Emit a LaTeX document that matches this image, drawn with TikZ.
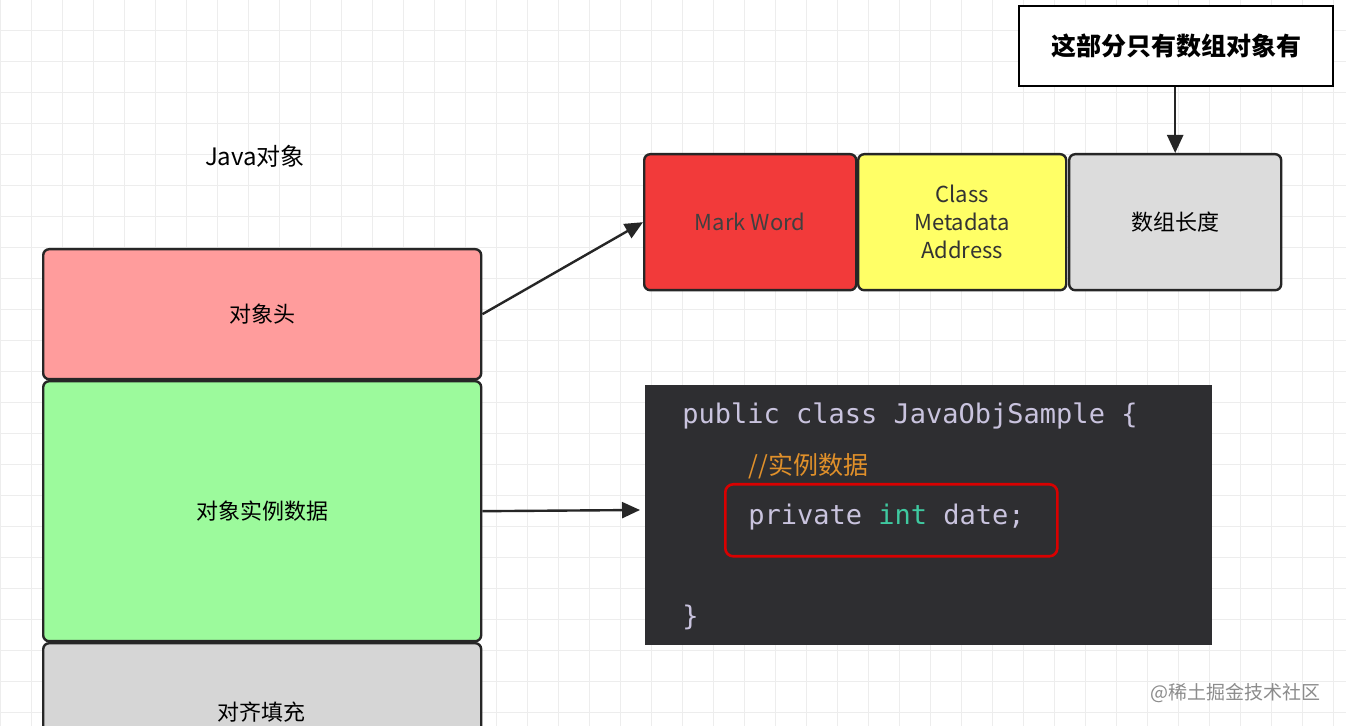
\documentclass[tikz,border=0pt]{standalone}
\usepackage{fontspec}
\setmainfont{Noto Sans CJK SC}
\newfontfamily\cjk{Noto Sans CJK SC}
\newfontfamily\codef{DejaVu Sans Mono}
\usetikzlibrary{arrows.meta}
\definecolor{hdr}{HTML}{FF9C9C}
\definecolor{inst}{HTML}{9CFA9C}
\definecolor{pad}{HTML}{D6D6D6}
\definecolor{mw}{HTML}{F23A3A}
\definecolor{cm}{HTML}{FFFF66}
\definecolor{al}{HTML}{DCDCDC}
\definecolor{codebg}{HTML}{2E2E31}
\definecolor{codefg}{HTML}{C9C3DE}
\definecolor{cmt}{HTML}{E0902A}
\definecolor{kw}{HTML}{3FC9A0}
\tikzset{
 blk/.style={draw=black!85,line width=1.2pt,rounded corners=3pt,align=center,font=\fontsize{11}{14}\selectfont},
 arr/.style={-{Triangle[length=9pt,width=8pt]},line width=1.2pt,black!85},
 code/.style={anchor=west,font=\codef\fontsize{13.5}{16}\selectfont,text=codefg,inner sep=0}
}
\begin{document}
\begin{tikzpicture}[x=0.5pt,y=-0.5pt]
\useasboundingbox (0,0) rectangle (1346,726);
\fill[white] (0,0) rectangle (1346,726);
\foreach \k in {0,...,43} \draw[black!7,line width=0.5pt] (\k*31,0) -- (\k*31,726);
\foreach \k in {0,...,23} \draw[black!7,line width=0.5pt] (0,\k*31) -- (1346,\k*31);
\node[font=\fontsize{12}{14}\selectfont] (title) at (255,156) {Java对象};
\node[blk,fill=hdr,minimum width=219pt,minimum height=65pt,anchor=north west] (h) at (42,248) {对象头};
\node[blk,fill=inst,minimum width=219pt,minimum height=130pt,anchor=north west] (i) at (42,380) {对象实例数据};
\begin{scope}
\clip (0,0) rectangle (1346,726);
\node[blk,fill=pad,minimum width=219pt,minimum height=60pt,anchor=north west,text depth=0pt] (p) at (42,642) {};
\end{scope}
\node[font=\fontsize{11}{14}\selectfont] (pt) at (261,712) {对齐填充};
\node[blk,fill=mw,minimum width=106pt,minimum height=68pt,anchor=north west,text=black!75] (m) at (643,153) {Mark Word};
\node[blk,fill=cm,minimum width=104pt,minimum height=68pt,anchor=north west,text=black!80] (c) at (857,153) {Class\\Metadata\\Address};
\node[blk,fill=al,minimum width=106pt,minimum height=68pt,anchor=north west] (a) at (1068,153) {数组长度};
\node[draw=black,line width=1.2pt,fill=white,minimum width=157pt,minimum height=40pt,anchor=north west,font=\fontsize{12.5}{14}\selectfont\bfseries] (note) at (1018,5) {这部分只有数组对象有};
\draw[arr] (note.south -| a.north) -- (a.north);
\draw[arr] (h.east) -- (m.west);
\coordinate (ce) at (640,510);
\node[fill=codebg,minimum width=283.5pt,minimum height=130pt,anchor=north west,inner sep=0] (code) at (645,385) {};
\draw[arr] (i.east) -- (ce);
\node[code] (l1) at (682,416) {public class JavaObjSample \{};
\node[code,text=cmt,font=\cjk\fontsize{12.5}{14}\selectfont] (l2) at (748,466) {//实例数据};
\node[code] (l3) at (748,517) {private \textcolor{kw}{int} date;};
\node[draw=red!85!black,line width=1.3pt,rounded corners=4pt,minimum width=166pt,minimum height=36pt,anchor=north west] (box) at (724,483) {};
\node[code] (l4) at (682,617) {\}};
\node[text=black!45,font=\fontsize{9.5}{12}\selectfont,anchor=east] (wm) at (1328,693) {@稀土掘金技术社区};
\end{tikzpicture}
\end{document}
